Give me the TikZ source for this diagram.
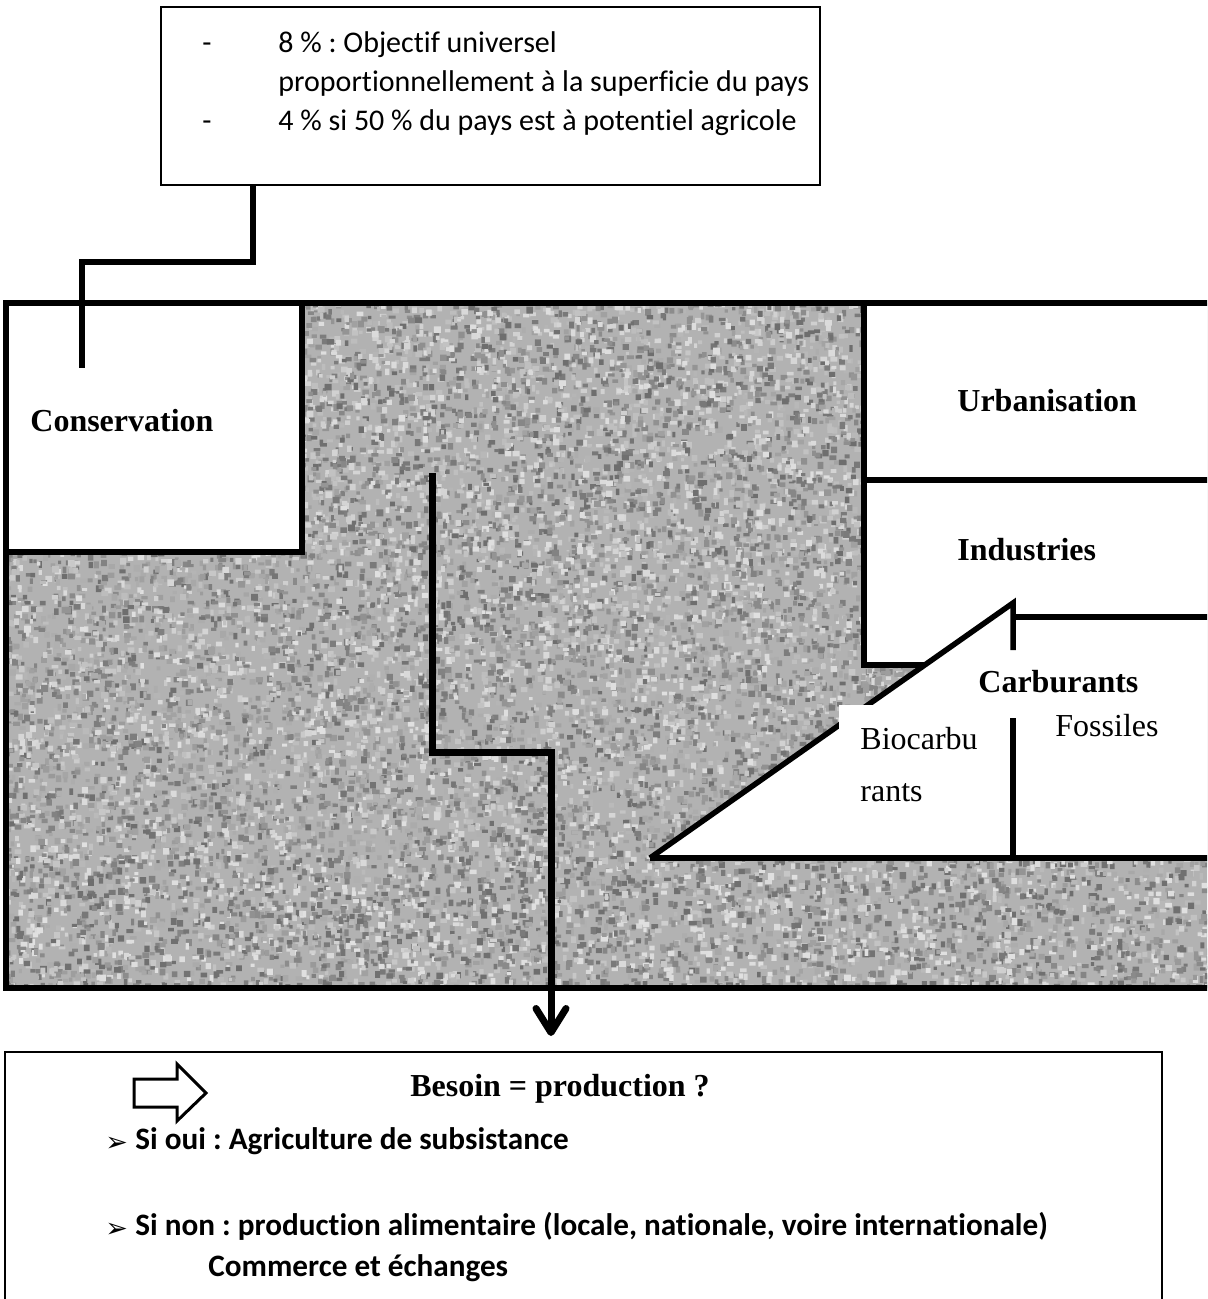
\documentclass[tikz,border=0pt]{standalone}
\usepackage{fontspec}
\setmainfont{Liberation Serif}
\newfontfamily\calibri[Ligatures=NoCommon]{Carlito}
\newfontfamily\dingfont{DejaVu Sans}
\usetikzlibrary{arrows.meta}

% scatter grey grains over the rectangle x0,y0,w,h in #5 batches
\newcommand\grains[5]{%
  \foreach \grp in {1,...,#5}{%
    \pgfmathsetmacro\gv{int(12+rnd*46)}%
    \fill[black!\gv] \foreach \k in {1,...,58}{
      ({#1-3+rnd*(#3+3)},{#2-3+rnd*(#4+3)}) rectangle ++({3+rnd*4},{3+rnd*4})
    };
  }%
}

\begin{document}
\frenchspacing
\begin{tikzpicture}[x=0.5pt,y=-0.5pt,
  frame/.style={line width=2.75pt},
  flow/.style={line width=3.5pt},
  thin/.style={line width=0.75pt},
  lbl/.style={font=\fontsize{16pt}{19pt}\selectfont\bfseries, inner sep=0pt, anchor=base west},
  plain/.style={font=\fontsize{16pt}{19pt}\selectfont, inner sep=0pt, anchor=base west},
  note/.style={font=\calibri\fontsize{15pt}{18pt}\selectfont, inner sep=0pt, anchor=base west},
  point/.style={font=\calibri\fontsize{15.6pt}{18pt}\selectfont\bfseries, inner sep=0pt, anchor=base west},
  bullet/.style={font=\dingfont\fontsize{13.5pt}{16pt}\selectfont, inner sep=0pt, anchor=base west}]
\useasboundingbox (0,0) rectangle (1207,1299);
\begin{scope}
\clip (0,0) rectangle (1207,1299);

% land area: grey ground with mottled light and dark grains
\fill[black!30] (6,303) rectangle (1230,988);
\begin{scope}
  \clip (6,303) rectangle (1230,988);
  \pgfmathsetseed{4242}
  \grains{302}{303}{562}{249}{60}
  \grains{6}{552}{858}{306}{110}
  \grains{6}{858}{1201}{130}{65}
  \grains{864}{665}{66}{85}{4}
\end{scope}

% white zones
\fill[white] (6,303) rectangle (302,552);
\fill[white] (864,303) rectangle (1230,665);
\fill[white] (650,858) -- (1013,603) -- (1013,617) -- (1230,617) -- (1230,858) -- cycle;

% outlines of the zones
\draw[frame] (6,303) rectangle (1230,988);
\draw[frame] (6,303) rectangle (302,552);
\draw[frame] (864,303) -- (864,665) -- (925,665);
\draw[frame] (864,480) -- (1230,480);
\draw[frame] (650,858) -- (1013,603) -- (1013,650);
\draw[frame] (1013,617) -- (1230,617);

% biofuel label panel
\fill[white] (839,705) rectangle (1011,855);
\draw[frame] (650,858) -- (1230,858);
\draw[frame] (1013,718) -- (1013,858);

% objectives box
\node[draw, thin, minimum width=329.5pt, minimum height=89pt, inner sep=0pt] (objectifs) at (490.5,96) {};
\node[note] (d1) at (202,53) {-};
\node[note] (o1) at (278,53) {8 \% : Objectif universel};
\node[note] (o2) at (278,92) {proportionnellement à la superficie du pays};
\node[note] (d3) at (202,131) {-};
\node[note] (o3) at (278,131) {4 \% si 50 \% du pays est à potentiel agricole};

% zone labels
\node[lbl] (conservation) at (30,431) {Conservation};
\node[lbl] (urbanisation) at (957,411) {Urbanisation};
\node[lbl] (industries) at (957,560) {Industries};
\node[lbl] (carburants) at (978,692) {Carburants};
\node[plain] (fossiles) at (1055,736) {Fossiles};
\node[plain] (bio1) at (860,749) {Biocarbu};
\node[plain] (bio2) at (860,801) {rants};

% link from the objectives to the conservation zone
\coordinate (objfoot) at (253,185);
\coordinate (consin) at (82,368);
\draw[frame] (objfoot) -- (253,262) -| (consin);

% outcome box
\draw[thin] (5,1320) -- (5,1052) -- (1162,1052) -- (1162,1320);
\coordinate (flowstart) at (432,473);
\coordinate (outcome) at (551,1036);
\draw[flow, -{Straight Barb[length=12pt,width=15pt,round]}] (flowstart) -- (432,752) -| (outcome);

\draw[line width=1.5pt, line join=miter] (134,1079) -- (177,1079) -- (177,1064) -- (206,1093) -- (177,1121) -- (177,1107) -- (134,1107) -- cycle;
\node[font=\fontsize{16pt}{19pt}\selectfont\bfseries, inner sep=0pt, anchor=base] (besoin) at (560,1096) {Besoin = production ?};
\node[bullet] (b1) at (105,1151) {➢};
\node[point] (oui) at (135,1149) {Si oui : Agriculture de subsistance};
\node[bullet] (b2) at (105,1237) {➢};
\node[point] (non) at (135,1235) {Si non : production alimentaire (locale, nationale, voire internationale)};
\node[point] (commerce) at (208,1276) {Commerce et échanges};
\end{scope}
\end{tikzpicture}
\end{document}
